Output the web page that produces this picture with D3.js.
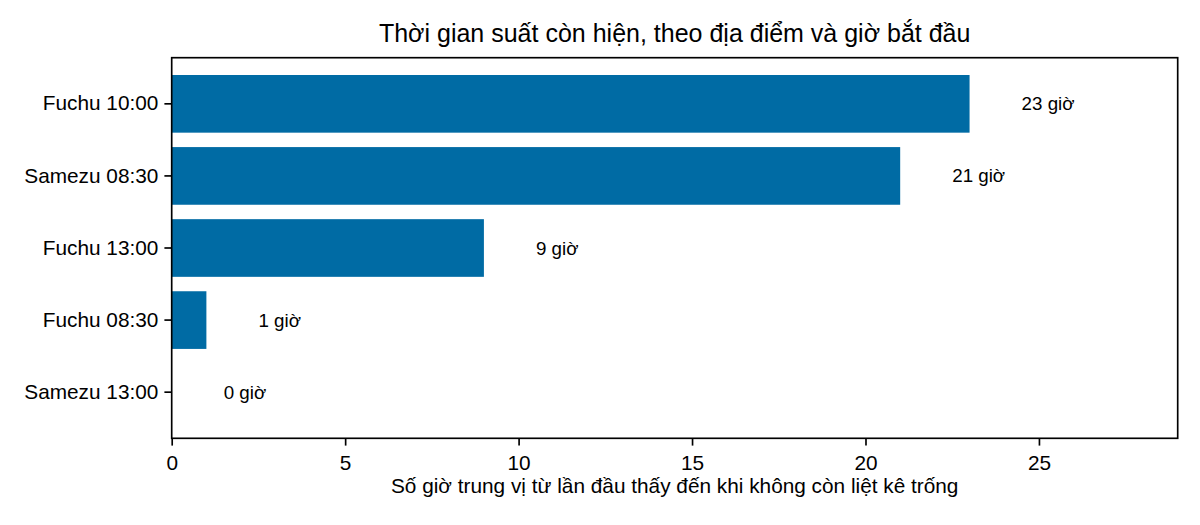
<!DOCTYPE html>
<html>
<head>
<meta charset="utf-8">
<script src="https://cdn.jsdelivr.net/npm/d3@7"></script>
<style>
  body { margin: 0; background: #fff; }
  text { font-family: "Liberation Sans", Arial, sans-serif; fill: #000; }
</style>
</head>
<body>
<div id="chart"></div>
<script>
// data, top to bottom
var categories = ["Fuchu 10:00", "Samezu 08:30", "Fuchu 13:00", "Fuchu 08:30", "Samezu 13:00"];
var hours = [23, 21, 9, 1, 0];
var xTicks = [0, 5, 10, 15, 20, 25];
var unit = "giờ";

var svgWidth = 1200, svgHeight = 525;
var margin = { top: 57.7, right: 22.3, bottom: 86.7, left: 171.7 };
var width = svgWidth - margin.left - margin.right;
var height = svgHeight - margin.top - margin.bottom;

var svg = d3.select("#chart")
  .append("svg")
  .attr("width", svgWidth)
  .attr("height", svgHeight);

var g = svg.append("g")
  .attr("transform", "translate(" + margin.left + "," + margin.top + ")");

var x = d3.scaleLinear().domain([0, 29]).range([0, width]);
var y = d3.scaleBand().domain(categories).range([0, height])
  .paddingInner(0.2).paddingOuter(0.24);

var rows = categories.map(function(c, i) { return { name: c, value: hours[i] }; });

// bars
g.selectAll("rect.bar")
  .data(rows)
  .enter().append("rect")
  .attr("class", "bar")
  .attr("x", x(0))
  .attr("y", function(d) { return y(d.name); })
  .attr("width", function(d) { return x(d.value) - x(0); })
  .attr("height", y.bandwidth())
  .attr("fill", "#006BA4");

// value labels
g.selectAll("text.val")
  .data(rows)
  .enter().append("text")
  .attr("class", "val")
  .attr("x", function(d) { return x(d.value + 1.5); })
  .attr("y", function(d) { return y(d.name) + y.bandwidth() / 2; })
  .attr("dy", "0.35em")
  .style("font-size", "18.75px")
  .text(function(d) { return d.value + " " + unit; });

// axes
var xAxis = g.append("g")
  .attr("transform", "translate(0," + height + ")")
  .call(d3.axisBottom(x).tickValues(xTicks).tickSize(7.3).tickPadding(6));
var yAxis = g.append("g")
  .call(d3.axisLeft(y).tickSize(7.3).tickPadding(6));

[xAxis, yAxis].forEach(function(a) {
  a.select(".domain").remove();
  a.selectAll(".tick line").attr("stroke", "#000").attr("stroke-width", 1.67);
  a.selectAll(".tick text").style("font-size", "20.8px").attr("fill", "#000");
});
xAxis.selectAll(".tick text").attr("dy", "0.9em");

// frame
g.append("rect")
  .attr("width", width)
  .attr("height", height)
  .attr("fill", "none")
  .attr("stroke", "#000")
  .attr("stroke-width", 1.67);

// title
svg.append("text")
  .attr("x", margin.left + width / 2)
  .attr("y", 41.5)
  .attr("text-anchor", "middle")
  .style("font-size", "25px")
  .text("Thời gian suất còn hiện, theo địa điểm và giờ bắt đầu");

// x label
svg.append("text")
  .attr("x", margin.left + width / 2)
  .attr("y", 493)
  .attr("text-anchor", "middle")
  .style("font-size", "20.8px")
  .text("Số giờ trung vị từ lần đầu thấy đến khi không còn liệt kê trống");
</script>
</body>
</html>
